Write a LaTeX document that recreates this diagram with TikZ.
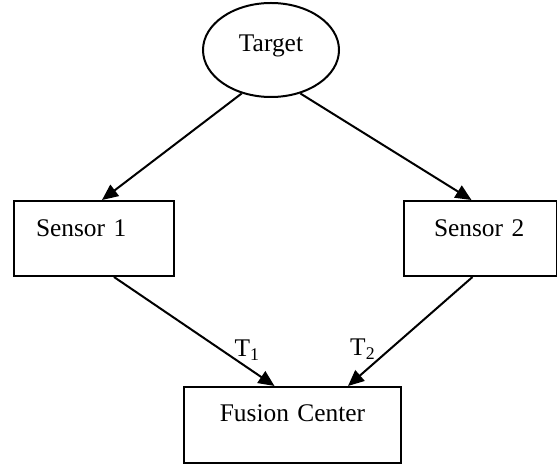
\documentclass[tikz,border=0pt]{standalone}
\usepackage{fontspec}
\setmainfont{Liberation Serif}
\usetikzlibrary{arrows.meta,shapes.geometric}

\begin{document}
\begin{tikzpicture}[x=0.5pt,y=-0.5pt,>={Triangle[length=8pt,width=7pt]},line width=1pt,
    main node/.style={draw,font=\fontsize{12.7}{15}\selectfont},
    box node/.style={main node,rectangle,anchor=north west,inner ysep=0pt,text height=18pt,text depth=19.5pt,align=left}]
            \useasboundingbox (0,0) rectangle (557,464);

            \node[main node,ellipse,minimum width=68pt,minimum height=47pt,inner sep=0pt,text height=8.3pt,text depth=6.3pt] (target) at (271,50) {Target};

            \node[box node,inner xsep=11pt,text width=58pt] (s1) at (13,200) {Sensor 1};
            \node[box node,inner xsep=15pt,text width=46.5pt] (s2) at (403,200) {Sensor 2};

            \node[box node,inner xsep=17pt,text width=74.5pt,align=center,text height=17.5pt,text depth=20.5pt] (fc) at (183,386) {Fusion Center};

            \path[->,every node/.style={font=\fontsize{12.7}{15}\selectfont}]
                (target.236) edge ([xshift=4pt]s1.north)
                (target.304) edge ([xshift=-4.5pt]s2.north)

                ([xshift=10pt]s1.south) edge node[pos=0.83,yshift=8.5pt]{T\textsubscript{1}} ([xshift=-9pt]fc.north)
                ([xshift=-4pt]s2.south) edge node[pos=0.88,yshift=11.75pt]{T\textsubscript{2}} ([xshift=27.75pt]fc.north)
            ;
\end{tikzpicture}
\end{document}
